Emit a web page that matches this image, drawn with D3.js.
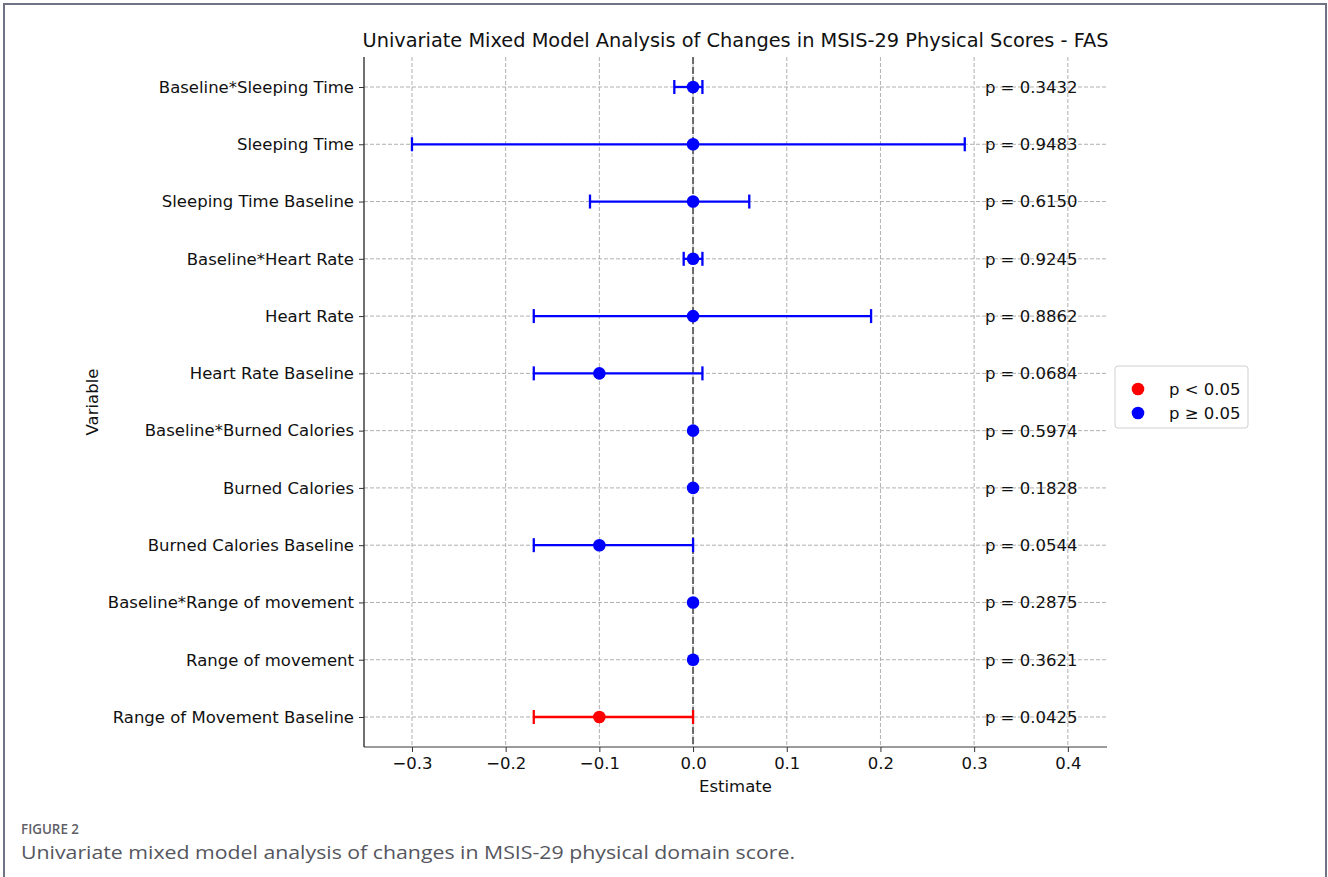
<!DOCTYPE html>
<html>
<head>
<meta charset="utf-8">
<script src="https://cdn.jsdelivr.net/npm/d3@7"></script>
<style>
  body { margin: 0; background: #fff; }
  svg { display: block; }
</style>
</head>
<body>
<svg id="chart" width="1328" height="877"></svg>
<script>
// rows top to bottom
var variables = [
    'Baseline*Sleeping Time', 'Sleeping Time', 'Sleeping Time Baseline',
    'Baseline*Heart Rate', 'Heart Rate', 'Heart Rate Baseline',
    'Baseline*Burned Calories', 'Burned Calories', 'Burned Calories Baseline',
    'Baseline*Range of movement', 'Range of movement', 'Range of Movement Baseline'
];
var estimates = [0.0, 0.0, 0.0, 0.0, 0.0, -0.1, 0.0, 0.0, -0.1, 0.0, 0.0, -0.1];
var ciLow  = [-0.02, -0.30, -0.11, -0.01, -0.17, -0.17, 0.0, 0.0, -0.17, 0.0, 0.0, -0.17];
var ciHigh = [ 0.01,  0.29,  0.06,  0.01,  0.19,  0.01, 0.0, 0.0,  0.0,  0.0, 0.0,  0.0];
var pValues = [0.3432, 0.9483, 0.6150, 0.9245, 0.8862, 0.0684, 0.5974, 0.1828, 0.0544, 0.2875, 0.3621, 0.0425];
var xTicks = [-0.3, -0.2, -0.1, 0.0, 0.1, 0.2, 0.3, 0.4];
var legendLabels = ['p < 0.05', 'p \u2265 0.05'];
var legendColors = ['#ff0000', '#0000ff'];

var svg = d3.select('#chart');
var font = 'DejaVu Sans, sans-serif';
var fs = 16.5;

var plotLeft = 364, plotRight = 1107, plotTop = 57, plotBottom = 747;

var x = d3.scaleLinear().domain([-0.3512, 0.4418]).range([plotLeft, plotRight]);
var y = d3.scaleLinear().domain([-0.524, variables.length - 1 + 0.524]).range([plotTop, plotBottom]);

// figure frame
svg.append('path')
    .attr('d', 'M4,877 L4,4 L1326,4 L1326,877')
    .attr('fill', 'none')
    .attr('stroke', '#6e7282')
    .attr('stroke-width', 2);

// grid
var g = svg.append('g');
g.selectAll('.vgrid').data(xTicks).enter().append('line')
    .attr('x1', function (d) { return x(d); })
    .attr('x2', function (d) { return x(d); })
    .attr('y1', plotTop).attr('y2', plotBottom)
    .attr('stroke', '#b0b0b0').attr('stroke-width', 1).attr('stroke-dasharray', '4,2');
g.selectAll('.hgrid').data(variables).enter().append('line')
    .attr('x1', plotLeft).attr('x2', plotRight)
    .attr('y1', function (d, i) { return y(i); })
    .attr('y2', function (d, i) { return y(i); })
    .attr('stroke', '#b0b0b0').attr('stroke-width', 1).attr('stroke-dasharray', '4,2');

// zero line
g.append('line')
    .attr('x1', x(0)).attr('x2', x(0))
    .attr('y1', plotTop).attr('y2', plotBottom)
    .attr('stroke', '#6a6a6a').attr('stroke-width', 2).attr('stroke-dasharray', '7,3');

// axes
var xAxis = d3.axisBottom(x).tickValues(xTicks).tickSize(5).tickPadding(5)
    .tickFormat(function (d) { return d3.format('.1f')(d).replace('-', '\u2212'); });
var gx = svg.append('g').attr('transform', 'translate(0,' + plotBottom + ')').call(xAxis);
gx.select('.domain').attr('stroke', '#7a7a7a').attr('stroke-width', 1.5).attr('d', 'M' + plotLeft + ',0H' + plotRight);
gx.selectAll('.tick line').attr('stroke', '#333');
gx.selectAll('text').attr('font-family', font).attr('font-size', fs).attr('fill', '#111');

var yAxis = d3.axisLeft(y).tickValues(d3.range(variables.length)).tickSize(5).tickPadding(5)
    .tickFormat(function (i) { return variables[i]; });
var gy = svg.append('g').attr('transform', 'translate(' + plotLeft + ',0)').call(yAxis);
gy.select('.domain').attr('stroke', '#111').attr('stroke-width', 1.2).attr('d', 'M0,' + plotTop + 'V' + plotBottom);
gy.selectAll('.tick line').attr('stroke', '#333');
gy.selectAll('text').attr('font-family', font).attr('font-size', fs).attr('fill', '#111');

// error bars and points
function colorOf(i) { return pValues[i] < 0.05 ? legendColors[0] : legendColors[1]; }
var rows = svg.append('g').selectAll('.row').data(variables).enter().append('g');

rows.each(function (d, i) {
    if (!(ciHigh[i] > ciLow[i])) return;
    var sel = d3.select(this);
    var yy = y(i);
    sel.append('line')
        .attr('x1', x(ciLow[i])).attr('x2', x(ciHigh[i]))
        .attr('y1', yy).attr('y2', yy)
        .attr('stroke', colorOf(i)).attr('stroke-width', 2.3);
    [ciLow[i], ciHigh[i]].forEach(function (v) {
        sel.append('line')
            .attr('x1', x(v)).attr('x2', x(v))
            .attr('y1', yy - 7).attr('y2', yy + 7)
            .attr('stroke', colorOf(i)).attr('stroke-width', 2.3);
    });
});
rows.append('circle')
    .attr('cx', function (d, i) { return x(estimates[i]); })
    .attr('cy', function (d, i) { return y(i); })
    .attr('r', 6.3)
    .attr('fill', function (d, i) { return colorOf(i); });

// p-value labels
svg.append('g').selectAll('text').data(pValues).enter().append('text')
    .attr('x', x(0.3115))
    .attr('y', function (d, i) { return y(i); })
    .attr('dy', '0.36em')
    .attr('font-family', font).attr('font-size', fs).attr('fill', '#111')
    .text(function (d) { return 'p = ' + d3.format('.4f')(d); });

// titles
svg.append('text')
    .attr('x', (plotLeft + plotRight) / 2).attr('y', 47)
    .attr('text-anchor', 'middle')
    .attr('font-family', font).attr('font-size', 19.5)
    .attr('textLength', 746).attr('lengthAdjust', 'spacingAndGlyphs')
    .attr('fill', '#111')
    .text('Univariate Mixed Model Analysis of Changes in MSIS-29 Physical Scores - FAS');
svg.append('text')
    .attr('x', (plotLeft + plotRight) / 2).attr('y', 792)
    .attr('text-anchor', 'middle')
    .attr('font-family', font).attr('font-size', fs).attr('fill', '#111')
    .text('Estimate');
svg.append('text')
    .attr('transform', 'translate(98,' + ((plotTop + plotBottom) / 2) + ') rotate(-90)')
    .attr('text-anchor', 'middle')
    .attr('font-family', font).attr('font-size', fs).attr('fill', '#111')
    .text('Variable');

// legend
var lg = svg.append('g').attr('transform', 'translate(1115,366)');
lg.append('rect')
    .attr('width', 133).attr('height', 62).attr('rx', 3)
    .attr('fill', '#fff').attr('stroke', '#d0d0d0');
lg.selectAll('circle').data(legendLabels).enter().append('circle')
    .attr('cx', 23).attr('cy', function (d, i) { return 23 + i * 24; })
    .attr('r', 6.3).attr('fill', function (d, i) { return legendColors[i]; });
lg.selectAll('text').data(legendLabels).enter().append('text')
    .attr('x', 54).attr('y', function (d, i) { return 23 + i * 24; })
    .attr('dy', '0.36em')
    .attr('font-family', font).attr('font-size', fs).attr('fill', '#111')
    .text(function (d) { return d; });

// caption
svg.append('text')
    .attr('x', 21).attr('y', 834)
    .attr('font-family', 'Open Sans, sans-serif').attr('font-size', 14.5).attr('font-weight', 600)
    .attr('fill', '#5f6068')
    .attr('textLength', 58).attr('lengthAdjust', 'spacingAndGlyphs')
    .text('FIGURE 2');
svg.append('text')
    .attr('x', 21).attr('y', 859)
    .attr('font-family', 'Open Sans, sans-serif').attr('font-size', 19)
    .attr('fill', '#55565e')
    .attr('textLength', 774).attr('lengthAdjust', 'spacingAndGlyphs')
    .text('Univariate mixed model analysis of changes in MSIS-29 physical domain score.');
</script>
</body>
</html>
